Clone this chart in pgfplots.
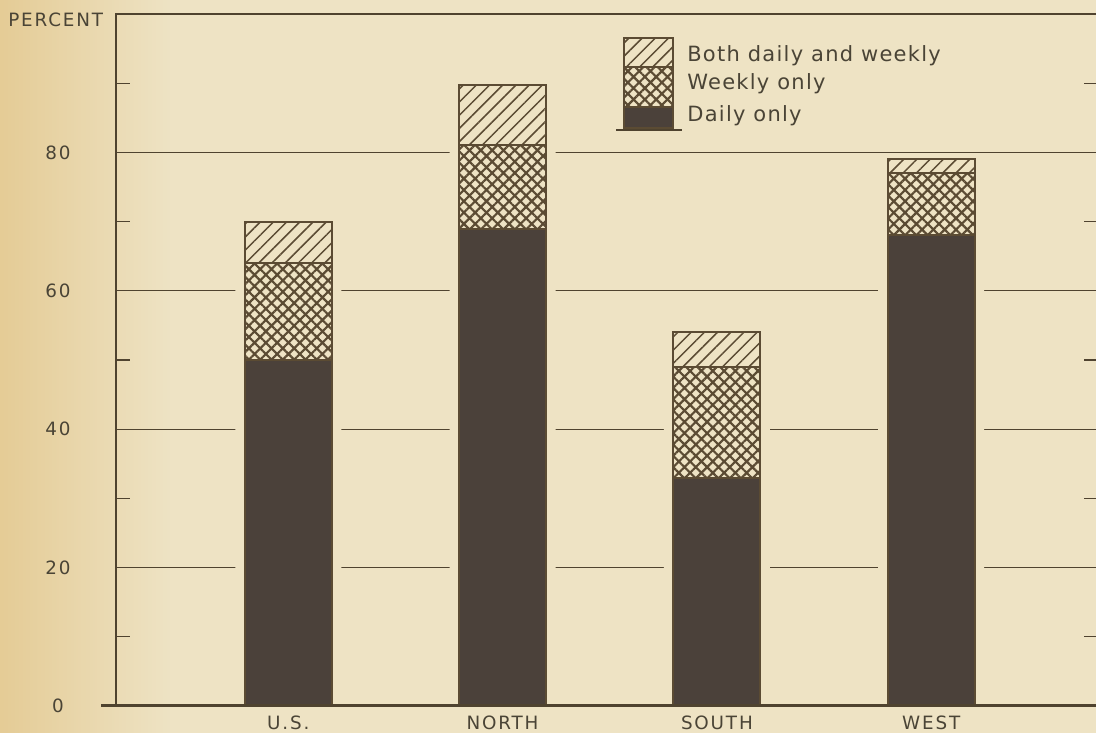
\documentclass[border=0pt]{standalone}
\usepackage{fontspec}
\setmainfont{DejaVu Sans}
\newfontfamily\capsfont[LetterSpace=10]{DejaVu Sans}
\newfontfamily\legfont[LetterSpace=6]{DejaVu Sans}
\usepackage{pgfplots}
\usepackage{pgfplotstable}
\pgfplotsset{compat=1.18}
\usetikzlibrary{patterns.meta,fadings}

\definecolor{paper}{HTML}{EEE3C4}
\definecolor{paperdark}{HTML}{E5CC96}
\definecolor{edge}{HTML}{5B4B33}
\definecolor{gridcol}{HTML}{4F432F}
\definecolor{barfill}{HTML}{4B413A}
\definecolor{textcol}{HTML}{4A4436}

% share of families, percent; columns are the stacked pieces
\pgfplotstableread{
x daily weekly both total
0 50 14 6   70
1 69 12 8.7 89.7
2 33 16 5   54
3 68 9  2   79
}\shares

\pgfplotsset{
  common/.style={
    at={(69.6pt,16.2pt)}, anchor=south west, scale only axis,
    width=589.2pt, height=415.2pt,
    xmin=-0.8037, xmax=3.778, ymin=0, ymax=100,
  }
}

\begin{document}
\begin{tikzpicture}[x=0.6pt,y=0.6pt]
\useasboundingbox (0,0) rectangle (1096,733);
\fill[paper] (0,0) rectangle (1096,733);
\fill[paperdark, path fading=east] (0,0) rectangle (170,733);

% frame, ticks, grid, and masks that open the gaps round the bars
\begin{axis}[
  common,
  axis line style={draw=gridcol, line width=0.7pt},
  ytick={0,20,40,60,80},
  minor ytick={10,30,50,70,90},
  major tick length=0pt,
  minor tick length=8.4pt,
  tick align=inside,
  minor tick style={draw=gridcol, line width=0.8pt},
  ymajorgrids,
  grid style={draw=gridcol, line width=0.8pt},
  xtick={0,1,2,3},
  xticklabels={U.S., NORTH, SOUTH, WEST},
  xtick style={draw=none},
  ticklabel style={font=\capsfont\fontsize{11}{13}\selectfont, text=textcol},
  /pgf/number format/assume math mode=true,
  yticklabel style={anchor=center, xshift=-34.8pt},
  xticklabel style={anchor=base, yshift=-14.4pt},
]
\addplot[ybar, bar width=63.6pt, bar shift=0pt, fill=paper, draw=none]
  table[x=x, y=total] {\shares};
\end{axis}

% stacked bars
\begin{axis}[
  common, hide axis,
  ybar stacked, bar width=52.2pt,
]
\addplot[fill=barfill, draw=edge, line width=1.2pt]
  table[x=x, y=daily] {\shares};
\addplot[fill=paper, draw=edge, line width=1.2pt,
  postaction={pattern={Hatch[angle=45, distance=4.8pt, line width=1.3pt]}, pattern color=edge}]
  table[x=x, y=weekly] {\shares};
\addplot[fill=paper, draw=edge, line width=1.2pt,
  postaction={pattern={Lines[angle=45, distance=5.6pt, line width=0.9pt]}, pattern color=edge}]
  table[x=x, y=both] {\shares};
\end{axis}

% heavy base line
\draw[gridcol, line width=1.8pt] (101,27) -- (1096,27);

% y unit
\node[anchor=base west, inner sep=0, text=textcol,
  font=\capsfont\fontsize{11}{13}\selectfont] at (8,706) {PERCENT};

% legend
\begin{scope}[draw=edge, line width=1.2pt]
  \filldraw[fill=paper, postaction={pattern={Lines[angle=45, distance=5.6pt, line width=0.9pt]}, pattern color=edge}]
    (624,666) rectangle (673,695);
  \filldraw[fill=paper, postaction={pattern={Hatch[angle=45, distance=4.8pt, line width=1.3pt]}, pattern color=edge}]
    (624,626) rectangle (673,666);
  \filldraw[fill=barfill] (624,605) rectangle (673,626);
\end{scope}
\draw[gridcol, line width=1.3pt] (616,603) -- (682,603);
\begin{scope}[every node/.style={anchor=base west, inner sep=0, text=textcol,
    font=\legfont\fontsize{12.6}{15}\selectfont}]
  \node at (687,671) {Both daily and weekly};
  \node at (687,643) {Weekly only};
  \node at (687,611) {Daily only};
\end{scope}
\end{tikzpicture}
\end{document}
